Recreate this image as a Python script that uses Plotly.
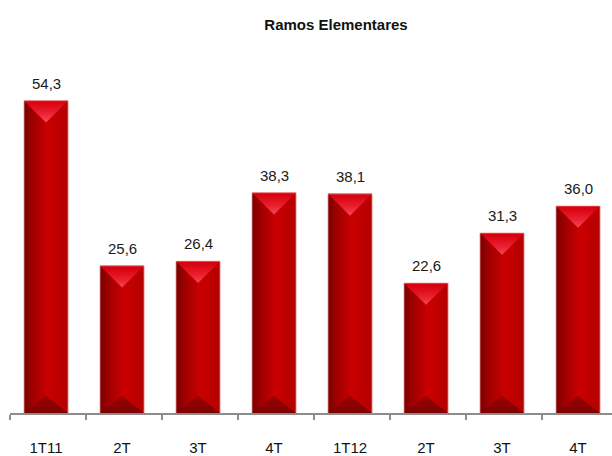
import plotly.graph_objects as go

# Quarterly values, "Ramos Elementares"
periodos = ["1T11", "2T", "3T", "4T", "1T12", "2T", "3T", "4T"]
valores = [54.3, 25.6, 26.4, 38.3, 38.1, 22.6, 31.3, 36.0]
titulo = "Ramos Elementares"

FONT = "Liberation Sans, Arial, sans-serif"
W, H = 612, 456
M_L, M_R, M_T, M_B = 10, 0, 60, 40
CAT_PX = 76                      # pixels per category slot
X0 = -0.474
X1 = X0 + (W - M_L - M_R) / CAT_PX
Y_MAX = 61.37
PX_PER_Y = (H - M_T - M_B) / Y_MAX
HALF_W = 0.29                    # half bar width (category units)
TOP_DEPTH = HALF_W * CAT_PX * 1.0 / PX_PER_Y
BOT_DEPTH = HALF_W * CAT_PX * 0.78 / PX_PER_Y

xs = list(range(len(periodos)))

fig = go.Figure()

# base bars
fig.add_trace(go.Bar(
    x=xs, y=valores, width=2 * HALF_W,
    marker=dict(color="#c00000", line=dict(width=0)),
    hoverinfo="skip", showlegend=False,
))


def face(x, y, orient, start, stop, scale):
    fig.add_trace(go.Scatter(
        x=x, y=y, mode="none", fill="toself",
        fillgradient=dict(type=orient, start=start, stop=stop, colorscale=scale),
        hoverinfo="skip", showlegend=False,
    ))


# bevelled faces drawn over each bar
for c, v in zip(xs, valores):
    l, r = c - HALF_W, c + HALF_W
    face([l, c, c, l], [0, 0, v, v], "horizontal", l, c,
         [[0, "#7c0000"], [0.55, "#aa0000"], [1, "#c20000"]])
    face([c, r, r, c], [0, 0, v, v], "horizontal", c, r,
         [[0, "#cc0000"], [1, "#b20000"]])
    face([l, r, c, l], [v, v, v - TOP_DEPTH, v], "vertical", v - TOP_DEPTH, v,
         [[0, "#f6505c"], [0.45, "#ea2030"], [1, "#d6000c"]])
    face([l, r, c, l], [0, 0, BOT_DEPTH, 0], "vertical", 0, BOT_DEPTH,
         [[0, "#7a0000"], [1, "#960000"]])
    fig.add_trace(go.Scatter(
        x=[l, l, r, r], y=[0, v, v, 0], mode="lines",
        line=dict(color="rgba(245,160,160,0.75)", width=1),
        hoverinfo="skip", showlegend=False,
    ))

# value labels
for c, v in zip(xs, valores):
    fig.add_annotation(
        x=c, y=v, text=f"{v:.1f}".replace(".", ","), showarrow=False,
        yanchor="bottom", yshift=7,
        font=dict(family=FONT, size=15, color="#1a1a1a"),
    )

fig.update_layout(
    width=W, height=H,
    margin=dict(l=M_L, r=M_R, t=M_T, b=M_B, pad=0),
    paper_bgcolor="white", plot_bgcolor="white",
    title=dict(
        text=f"<b>{titulo}</b>", xref="container", yref="container",
        x=336 / W, xanchor="center", y=1 - 25 / H, yanchor="middle",
        font=dict(family=FONT, size=15, color="#111111"),
    ),
    xaxis=dict(
        range=[X0, X1], tickmode="array", tickvals=xs, ticktext=periodos,
        ticks="", showgrid=False, zeroline=False,
        showline=True, linecolor="#8c8c8c", linewidth=2,
        ticklabelstandoff=20,
        tickfont=dict(family=FONT, size=15, color="#111111"),
        minor=dict(ticks="outside", ticklen=5, tickwidth=1.5,
                   tickcolor="#8c8c8c", tick0=X0, dtick=1, showgrid=False),
    ),
    yaxis=dict(range=[0, Y_MAX], visible=False, showgrid=False, zeroline=False),
    showlegend=False,
)

fig.write_html("out.html")
